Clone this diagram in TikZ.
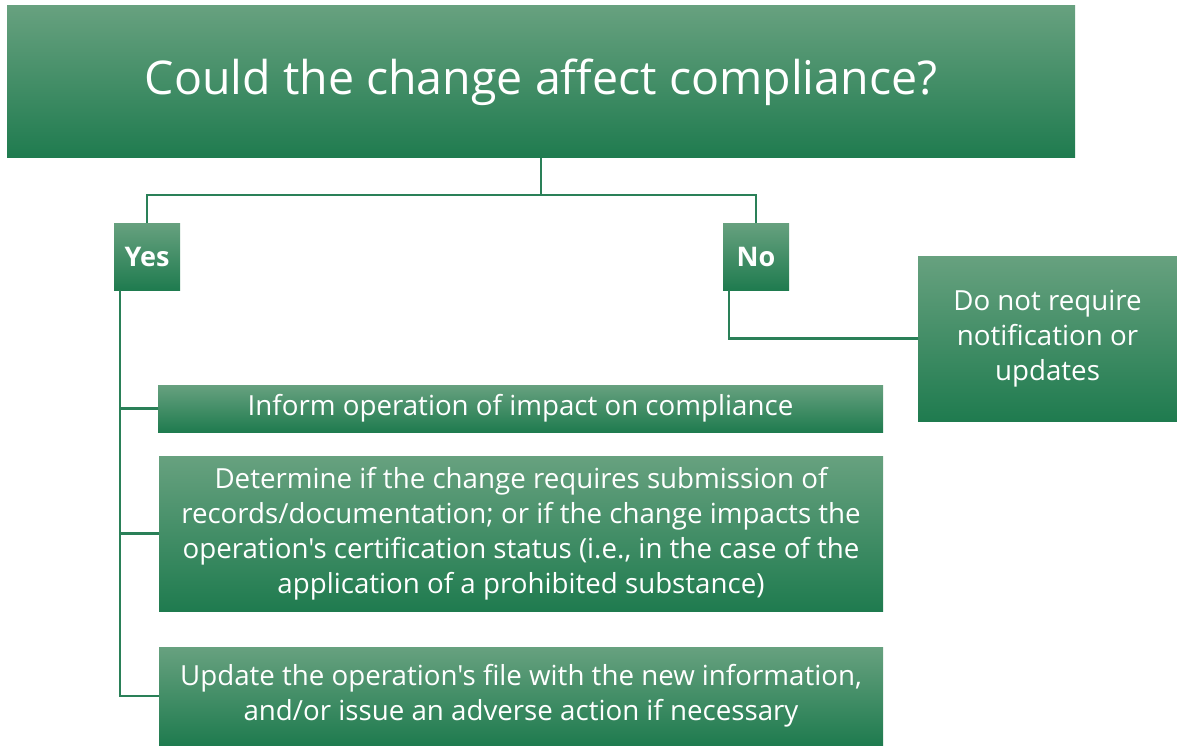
\documentclass[tikz,border=0pt]{standalone}
\usepackage{fontspec}
\newfontfamily\osans{Open Sans}
\definecolor{gtop}{HTML}{67A17F}
\definecolor{gbot}{HTML}{1F7B4F}
\definecolor{gline}{HTML}{2A8058}
\begin{document}
\begin{tikzpicture}[x=1pt,y=-1pt,
  gbox/.style={top color=gtop,bottom color=gbot,draw=none,text=white,align=center,inner sep=0pt,
    font=\osans\fontsize{27.7}{35}\selectfont},
  conn/.style={draw=gline,line width=2.2pt}]
\useasboundingbox (0,0) rectangle (1177,746);
\node[gbox,minimum width=1068pt,minimum height=152pt,font=\osans\fontsize{46.5}{56}\selectfont] (title) at (541,82) {\raisebox{3pt}{Could the change affect compliance?}};
\node[gbox,minimum width=66pt,minimum height=67pt,font=\osans\bfseries\fontsize{27}{30}\selectfont] (yes) at (147,256.5) {Yes};
\node[gbox,minimum width=66pt,minimum height=67pt,font=\osans\bfseries\fontsize{27}{30}\selectfont] (no) at (756,256.5) {No};
\node[gbox,minimum width=259pt,minimum height=165pt] (donot) at (1047.5,338.5) {Do not require\\notification or\\updates};
\node[gbox,minimum width=725pt,minimum height=47pt] (inform) at (520.5,408.5) {Inform operation of impact on compliance};
\node[gbox,minimum width=724pt,minimum height=155pt] (determine) at (521,533.5) {Determine if the change requires submission of\\records/documentation; or if the change impacts the\\operation's certification status (i.e., in the case of the\\application of a prohibited substance)};
\node[gbox,minimum width=724pt,minimum height=98pt] (update) at (521,696) {Update the operation's file with the new information,\\and/or issue an adverse action if necessary};
\coordinate (split) at (541,195);
\draw[conn] (title.south) -- (split);
\draw[conn] (split) -| (yes.north);
\draw[conn] (split) -| (no.north);
\coordinate (ys) at ([xshift=6pt]yes.south west);
\coordinate (ns) at ([xshift=6pt]no.south west);
\draw[conn] (ns) |- (donot.west);
\draw[conn] (ys) |- (update.west);
\draw[conn] (ys |- inform.west) -- (inform.west);
\draw[conn] (ys |- determine.west) -- (determine.west);
\end{tikzpicture}
\end{document}
